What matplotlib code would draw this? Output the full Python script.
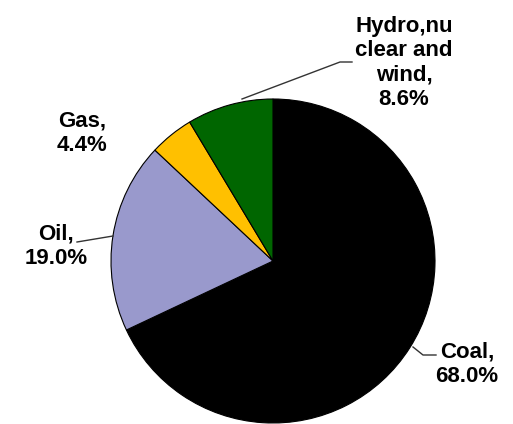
import matplotlib
matplotlib.use("Agg")
import matplotlib.pyplot as plt

# data
labels = ["Coal", "Oil", "Gas", "Hydro,nu\nclear and\nwind"]
shares = [68.0, 19.0, 4.4, 8.6]
colors = ["#000000", "#9999CC", "#FFC000", "#006600"]

plt.rcParams['font.family'] = ['Liberation Sans', 'DejaVu Sans']

W, H = 513, 424
cx, cy, r = 273, 261, 162   # pie centre / radius in pixels


def px(x, y):
    # pixel position -> data coords (pie radius = 1)
    return (x - cx) / r, (cy - y) / r


fig = plt.figure(figsize=(W / 100, H / 100), dpi=100)
ax = fig.add_axes([0, 0, 1, 1])
ax.pie(shares, colors=colors, startangle=90, counterclock=False,
       radius=1, wedgeprops=dict(edgecolor="black", linewidth=0.8))
ax.set_xlim(-cx / r, (W - cx) / r)
ax.set_ylim((cy - H) / r, cy / r)
ax.set_aspect("equal")
ax.axis("off")

# label placement (pixels): text centre, leader line points
text_pos = [(467, 364), (56, 246), (82, 133), (404, 63)]
leaders = [
    [(413, 347), (423, 355), (436, 355)],
    [(113, 236), (77, 242)],
    None,
    [(242, 99), (340, 62), (352, 62)],
]

for lab, val, tp, ld in zip(labels, shares, text_pos, leaders):
    ax.text(*px(*tp), f"{lab},\n{val:.1f}%", ha="center", va="center",
            multialignment="center", fontsize=16, fontweight="bold",
            linespacing=1.2)
    if ld:
        xs, ys = zip(*[px(*p) for p in ld])
        ax.plot(xs, ys, color="#333333", lw=1.0)

fig.savefig("out.png", dpi=100)
